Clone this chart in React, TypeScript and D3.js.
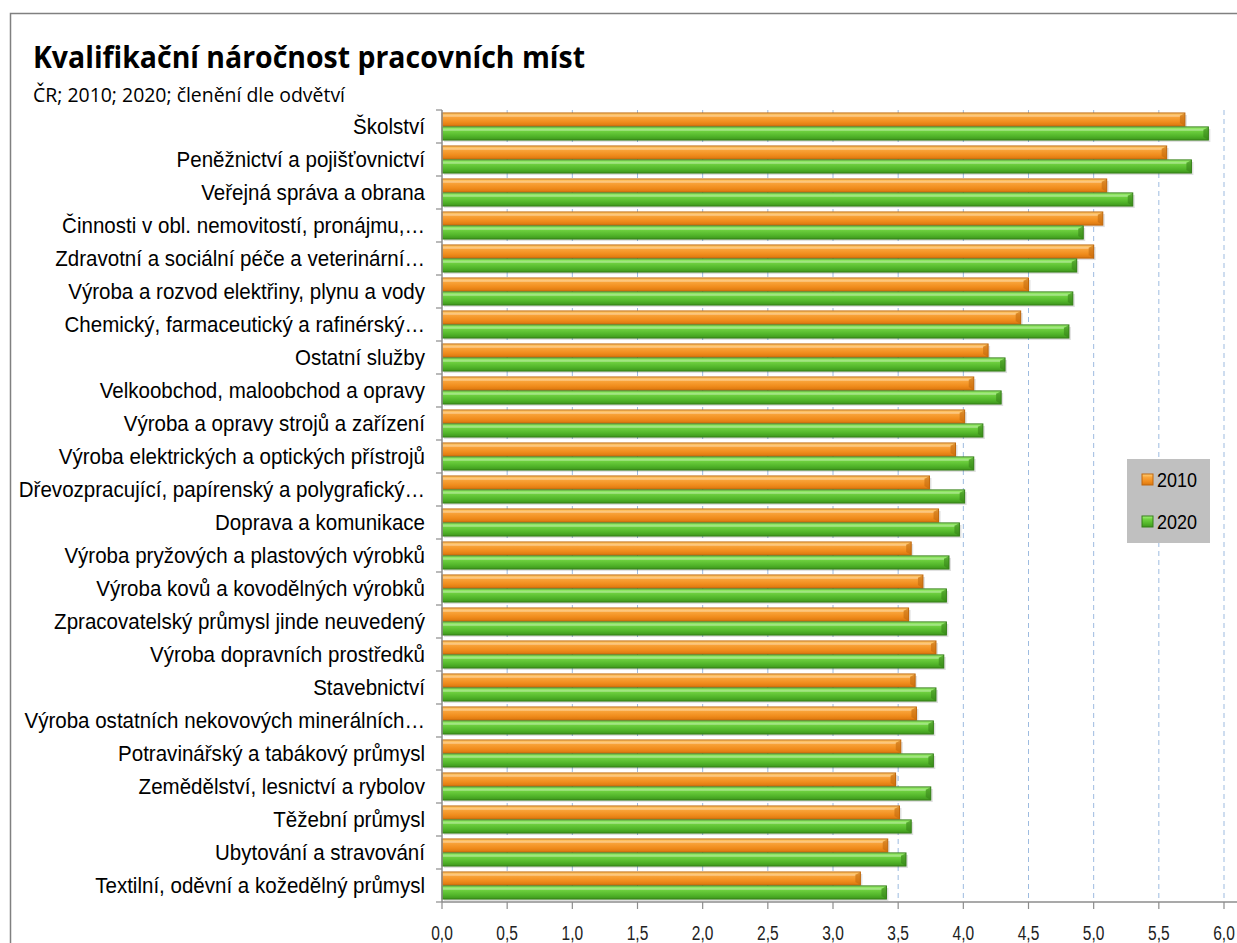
import React from "react";
import * as d3 from "d3";

const categories = [
  "Školství",
  "Peněžnictví a pojišťovnictví",
  "Veřejná správa a obrana",
  "Činnosti v obl. nemovitostí, pronájmu,…",
  "Zdravotní a sociální péče a veterinární…",
  "Výroba a rozvod elektřiny, plynu a vody",
  "Chemický, farmaceutický a rafinérský…",
  "Ostatní služby",
  "Velkoobchod, maloobchod a opravy",
  "Výroba a opravy strojů a zařízení",
  "Výroba elektrických a optických přístrojů",
  "Dřevozpracující, papírenský a polygrafický…",
  "Doprava a komunikace",
  "Výroba pryžových a plastových výrobků",
  "Výroba kovů a kovodělných výrobků",
  "Zpracovatelský průmysl jinde neuvedený",
  "Výroba dopravních prostředků",
  "Stavebnictví",
  "Výroba ostatních nekovových minerálních…",
  "Potravinářský a tabákový průmysl",
  "Zemědělství, lesnictví a rybolov",
  "Těžební průmysl",
  "Ubytování a stravování",
  "Textilní, oděvní a kožedělný průmysl",
];

const values2010 = [
  5.70, 5.56, 5.10, 5.07, 5.00, 4.50, 4.44, 4.19, 4.08, 4.01, 3.94, 3.74,
  3.81, 3.60, 3.69, 3.58, 3.79, 3.63, 3.64, 3.52, 3.48, 3.51, 3.42, 3.21,
];
const values2020 = [
  5.88, 5.75, 5.30, 4.92, 4.87, 4.84, 4.81, 4.32, 4.29, 4.15, 4.08, 4.01,
  3.97, 3.89, 3.87, 3.87, 3.85, 3.79, 3.77, 3.77, 3.75, 3.60, 3.56, 3.41,
];
const seriesNames = ["2010", "2020"];
const xTicks = [0, 0.5, 1, 1.5, 2, 2.5, 3, 3.5, 4, 4.5, 5, 5.5, 6];

const title = "Kvalifikační náročnost pracovních míst";
const subtitle = "ČR; 2010; 2020; členění dle odvětví";

const W = 1237;
const H = 943;
const plot = { left: 442, right: 1224, top: 110, bottom: 902 };

const palette = [
  { id: "gOrange", stops: ["#ffd27a", "#f9a43a", "#f08c1c", "#d9760f"], stroke: "#c0670c" },
  { id: "gGreen", stops: ["#a6f57c", "#6fd140", "#52b52a", "#3d961c"], stroke: "#357f18" },
];

export default function App() {
  const x = d3.scaleLinear().domain([0, 6]).range([plot.left, plot.right]);
  const y = d3
    .scaleBand<string>()
    .domain(categories)
    .range([plot.top, plot.bottom])
    .paddingInner(0.18)
    .paddingOuter(0.09);
  const inner = d3
    .scaleBand<string>()
    .domain(seriesNames)
    .range([0, y.bandwidth()])
    .paddingInner(0.06);
  const data = [values2010, values2020];
  const step = y.step();

  return (
    <svg
      width={W}
      height={H}
      style={{ position: "absolute", left: 0, top: 0, background: "#fff" }}
    >
      <defs>
        {palette.map((p) => (
          <linearGradient key={p.id} id={p.id} x1="0" y1="0" x2="0" y2="1">
            <stop offset="0" stopColor={p.stops[0]} />
            <stop offset="0.3" stopColor={p.stops[1]} />
            <stop offset="0.7" stopColor={p.stops[2]} />
            <stop offset="1" stopColor={p.stops[3]} />
          </linearGradient>
        ))}
      </defs>
      {/* frame */}
      <rect x={10.5} y={13.5} width={W + 20} height={H + 20} fill="none" stroke="#808080" strokeWidth={1.5} />

      <text x={33} y={68} fontFamily="'Open Sans', sans-serif" fontWeight={700} fontSize={31} textLength={552} lengthAdjust="spacingAndGlyphs" fill="#000">
        {title}
      </text>
      <text x={33} y={102} fontFamily="'Open Sans', sans-serif" fontSize={20.5} textLength={312} lengthAdjust="spacingAndGlyphs" fill="#000">
        {subtitle}
      </text>

      {/* gridlines */}
      {xTicks.slice(1).map((t) => (
        <line key={"g" + t} x1={x(t)} x2={x(t)} y1={plot.top} y2={plot.bottom} stroke="#9dbbe0" strokeWidth={1} strokeDasharray="5,4" />
      ))}

      {/* bars */}
      {categories.map((c, i) => (
        <g key={c}>
          {seriesNames.map((s, k) => {
            const v = data[k][i];
            const y0 = (y(c) as number) + (inner(s) as number);
            const h = inner.bandwidth();
            const x0 = x(0);
            const x1 = x(v);
            const p = palette[k];
            return (
              <g key={s}>
                <rect x={x0 + 2} y={y0 + 2} width={x1 - x0} height={h} fill="#000" opacity={0.12} />
                <rect x={x0} y={y0} width={x1 - x0} height={h} fill={`url(#${p.id})`} stroke={p.stroke} strokeWidth={1} />
                <polygon
                  points={`${x1 - 5},${y0 + 3} ${x1},${y0} ${x1},${y0 + h} ${x1 - 5},${y0 + h - 3}`}
                  fill={p.stroke}
                  opacity={0.55}
                />
                <line x1={x0 + 1} x2={x1 - 5} y1={y0 + 3} y2={y0 + 3} stroke="#fff" strokeOpacity={0.35} strokeWidth={1.5} />
              </g>
            );
          })}
        </g>
      ))}

      {/* y axis */}
      <line x1={plot.left} x2={plot.left} y1={plot.top} y2={plot.bottom} stroke="#8c8c8c" strokeWidth={1.5} />
      {d3.range(categories.length + 1).map((i) => {
        const yy = plot.top + i * step;
        return <line key={"yt" + i} x1={plot.left - 6} x2={plot.left} y1={yy} y2={yy} stroke="#8c8c8c" strokeWidth={1.2} />;
      })}
      {categories.map((c) => (
        <g key={"l" + c} transform={`translate(425,${(y(c) as number) + y.bandwidth() / 2}) scale(0.913,1)`}>
          <text
            x={0}
            y={0}
            dy="0.34em"
            textAnchor="end"
            fontFamily="'Liberation Sans', Arial, sans-serif"
            fontSize={22.5}
            fill="#000"
          >
            {c}
          </text>
        </g>
      ))}

      {/* x axis */}
      <line x1={plot.left} x2={plot.right + 13} y1={plot.bottom} y2={plot.bottom} stroke="#8c8c8c" strokeWidth={1.5} />
      {xTicks.map((t) => (
        <g key={"xt" + t}>
          <line x1={x(t)} x2={x(t)} y1={plot.bottom} y2={plot.bottom + 7} stroke="#8c8c8c" strokeWidth={1.2} />
          <g transform={`translate(${x(t)},939.5) scale(0.74,1)`}>
            <text x={0} y={0} textAnchor="middle" fontFamily="'Liberation Sans', Arial, sans-serif" fontSize={21} fill="#222">
              {d3.format(".1f")(t).replace(".", ",")}
            </text>
          </g>
        </g>
      ))}

      {/* legend */}
      <rect x={1127} y={459} width={83} height={84} fill="#c0c0c0" />
      {seriesNames.map((s, k) => {
        const ly = 480 + k * 42;
        const p = palette[k];
        return (
          <g key={"lg" + s}>
            <rect x={1142} y={ly - 6} width={11} height={11} fill={`url(#${p.id})`} stroke={p.stroke} strokeWidth={1} />
            <g transform={`translate(1157,${ly}) scale(0.9,1)`}>
              <text x={0} y={0} dy="0.35em" fontFamily="'Liberation Sans', Arial, sans-serif" fontSize={20} fill="#000">
                {s}
              </text>
            </g>
          </g>
        );
      })}
    </svg>
  );
}
